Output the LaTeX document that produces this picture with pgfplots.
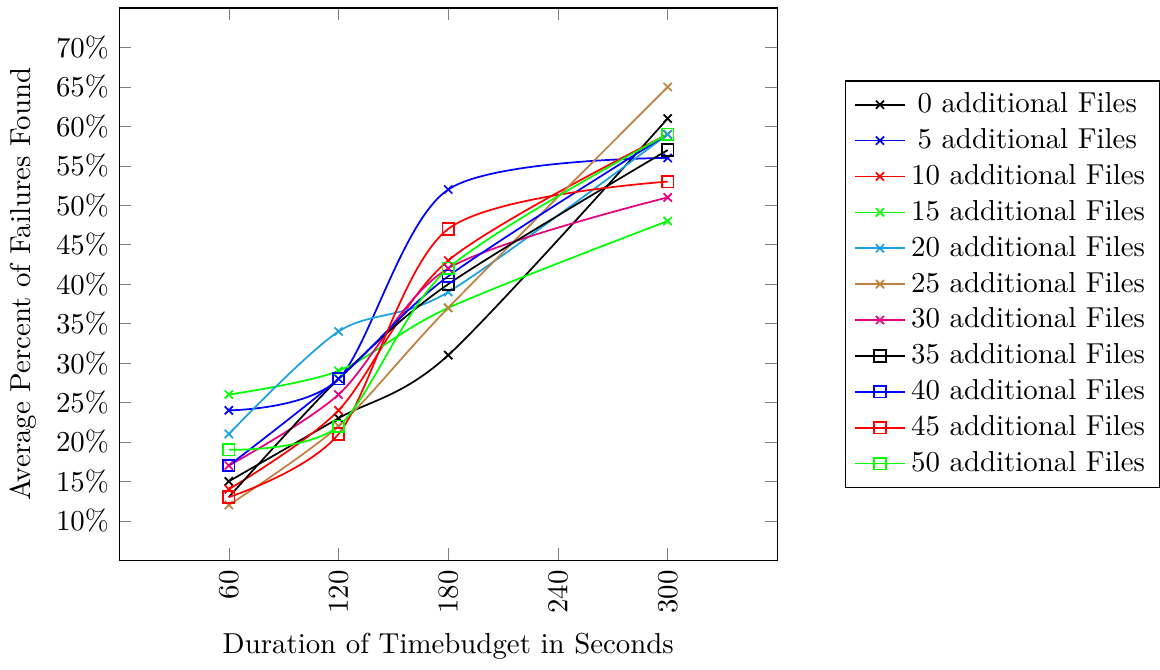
\documentclass[border=0pt]{standalone}
\usepackage{pgfplots}
\pgfplotsset{compat=1.18}
\definecolor{cyanx}{RGB}{27,161,226}
\definecolor{pinkx}{RGB}{230,0,126}
\definecolor{brownx}{RGB}{191,128,64}
\begin{document}
\begin{tikzpicture}
\begin{axis}[
  scale only axis,
  width=228.2pt, height=191.4pt,
  xmin=0, xmax=360, ymin=5, ymax=75,
  xtick={60,120,180,240,300},
  xticklabel style={rotate=90, anchor=east},
  ytick={10,15,20,25,30,35,40,45,50,55,60,65,70},
  yticklabel={\pgfmathprintnumber{\tick}\%},
  xlabel={Duration of Timebudget in Seconds},
  ylabel={Average Percent of Failures Found},
  legend style={at={(1.103,0.5)}, anchor=west, cells={anchor=west}},
  every axis plot/.append style={semithick, smooth},
]
\addplot[black, mark=x] coordinates {(60,15) (120,23) (180,31) (300,61)};
\addlegendentry{\hspace{2.2pt}0 additional Files}
\addplot[blue, mark=x] coordinates {(60,24) (120,28) (180,52) (300,56)};
\addlegendentry{\hspace{2.2pt}5 additional Files}
\addplot[red, mark=x] coordinates {(60,14) (120,24) (180,43) (300,59)};
\addlegendentry{10 additional Files}
\addplot[green, mark=x] coordinates {(60,26) (120,29) (180,37) (300,48)};
\addlegendentry{15 additional Files}
\addplot[cyanx, mark=x] coordinates {(60,21) (120,34) (180,39) (300,59)};
\addlegendentry{20 additional Files}
\addplot[brownx, mark=x] coordinates {(60,12) (120,22) (180,37) (300,65)};
\addlegendentry{25 additional Files}
\addplot[pinkx, mark=x] coordinates {(60,17) (120,26) (180,42) (300,51)};
\addlegendentry{30 additional Files}
\addplot[black, mark=square] coordinates {(60,13) (120,28) (180,40) (300,57)};
\addlegendentry{35 additional Files}
\addplot[blue, mark=square] coordinates {(60,17) (120,28) (180,41) (300,59)};
\addlegendentry{40 additional Files}
\addplot[red, mark=square] coordinates {(60,13) (120,21) (180,47) (300,53)};
\addlegendentry{45 additional Files}
\addplot[green, mark=square] coordinates {(60,19) (120,22) (180,42) (300,59)};
\addlegendentry{50 additional Files}
\end{axis}
\path ([yshift=2.8pt]current axis.north west);
\end{tikzpicture}
\end{document}
